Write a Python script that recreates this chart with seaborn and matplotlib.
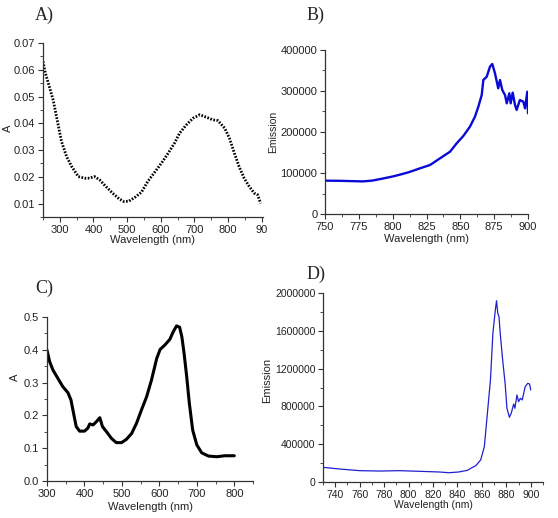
import numpy as np
import pandas as pd
import seaborn as sns
import matplotlib.pyplot as plt
from matplotlib.ticker import MultipleLocator, FuncFormatter

# --- data ---
# A) absorbance, dotted
wl_a = [250, 257, 270, 280, 290, 305, 320, 335, 355, 374, 388, 403, 418, 437, 457,
        476, 490, 505, 525, 543, 561, 580, 602, 622, 641, 656, 676, 696, 716, 735,
        755, 770, 790, 804, 819, 833, 848, 863, 878, 888, 897]
abs_a = [0.0631, 0.0588, 0.0532, 0.0488, 0.0426, 0.0332, 0.0276, 0.0239, 0.0201, 0.0195,
         0.0195, 0.0201, 0.0189, 0.0164, 0.0139, 0.0118, 0.0108, 0.0109, 0.0125, 0.0143,
         0.0182, 0.0214, 0.0251, 0.0288, 0.0326, 0.0363, 0.0394, 0.0419, 0.0432, 0.0423,
         0.0413, 0.0410, 0.0382, 0.0345, 0.0288, 0.0238, 0.0195, 0.0164, 0.0139, 0.0133,
         0.0101]

# B) emission
wl_b = [750, 760, 770, 778, 785, 792, 800, 806, 812, 820.2, 827.6, 835, 842.4, 847.3,
        852.2, 857.1, 860.8, 863.3, 865.8, 867, 869.5, 871.9, 873.6, 875.6, 878, 879.3,
        881, 883, 884.3, 886.2, 887.2, 888.7, 890.4, 891.6, 894, 896.5, 897.8, 899.5, 900]
em_b = [81300, 81000, 80200, 79500, 81500, 86000, 91500, 96500, 102000, 111400, 119500,
        135800, 152000, 172400, 190200, 213000, 237300, 261700, 290200, 326800, 334900,
        359300, 365900, 343100, 306500, 326800, 302400, 290200, 270000, 294400, 270000,
        296000, 265900, 253700, 278000, 274000, 257800, 298300, 245600]

# C) absorbance
wl_c = [300, 307, 316, 329, 342, 356, 364, 371, 378, 387, 400, 409, 414, 423, 432, 441,
        448, 459, 472, 485, 499, 512, 526, 539, 552, 566, 579, 593, 602, 615, 628, 637,
        646, 654, 660, 666, 673, 680, 689, 700, 713, 731, 753, 775, 800]
abs_c = [0.399, 0.364, 0.338, 0.313, 0.288, 0.269, 0.247, 0.206, 0.166, 0.152, 0.152,
         0.161, 0.174, 0.171, 0.181, 0.193, 0.166, 0.150, 0.130, 0.117, 0.117, 0.127,
         0.145, 0.176, 0.216, 0.257, 0.308, 0.374, 0.401, 0.415, 0.432, 0.455, 0.473,
         0.469, 0.440, 0.389, 0.318, 0.237, 0.155, 0.110, 0.086, 0.076, 0.074, 0.077,
         0.077]

# D) emission
wl_d = [730, 744, 760, 776.5, 792.7, 809, 825, 833, 841, 848, 852, 855, 859, 862, 864,
        867, 869, 871, 872, 873, 874, 875, 877, 879, 880.5, 882.5, 884, 886, 887, 888.7,
        890, 891.5, 893, 895.4, 897.5, 899, 900]
em_d = [155000, 137000, 120000, 116000, 120000, 113000, 106000, 98000, 106000, 123000,
        152000, 173000, 233000, 374000, 656000, 1079000, 1573000, 1820000, 1918000,
        1785000, 1749000, 1573000, 1291000, 1044000, 780000, 685000, 727000, 825000,
        780000, 921000, 850000, 886000, 868000, 1008000, 1044000, 1037000, 974000]

sns.set_style("ticks")
plt.rcParams['font.family'] = ['Liberation Sans', 'DejaVu Sans']
plt.rcParams['axes.edgecolor'] = '#333333'
plt.rcParams['xtick.color'] = '#333333'
plt.rcParams['ytick.color'] = '#333333'
plt.rcParams['xtick.labelcolor'] = '#222222'
plt.rcParams['ytick.labelcolor'] = '#222222'

fig = plt.figure(figsize=(5.58, 5.18), dpi=100)
W, H = 558, 518


def px_axes(left, top, right, bottom):
    return fig.add_axes([left / W, (H - bottom) / H, (right - left) / W, (bottom - top) / H])


def style(ax, xmaj, xmin, ymaj, ymin, fs=8):
    sns.despine(ax=ax)
    ax.xaxis.set_major_locator(MultipleLocator(xmaj))
    ax.xaxis.set_minor_locator(MultipleLocator(xmin))
    ax.yaxis.set_major_locator(MultipleLocator(ymaj))
    ax.yaxis.set_minor_locator(MultipleLocator(ymin))
    ax.tick_params(which='major', length=3.5, width=0.8, labelsize=fs, pad=2)
    ax.tick_params(which='minor', length=2, width=0.6)
    for s in ax.spines.values():
        s.set_linewidth(0.9)
    ax.set_xlabel("Wavelength (nm)", fontsize=fs, color='#222222')


# A)
ax_a = px_axes(43, 43, 263, 217)
sns.lineplot(x=wl_a, y=abs_a, ax=ax_a, color='black', lw=2.0, linestyle=(0, (0.6, 0.55)))
ax_a.set_xlim(250, 904)
ax_a.set_ylim(0.005, 0.07)
style(ax_a, 100, 50, 0.01, 0.005)
ax_a.xaxis.set_major_formatter(FuncFormatter(lambda v, p: "90" if v >= 900 else f"{v:.0f}"))
ax_a.set_ylabel("A", fontsize=8, color='#222222')
ax_a.xaxis.set_label_coords(0.5, -0.105)
ax_a.yaxis.set_label_coords(-0.136, 0.51)

# B)
ax_b = px_axes(325, 50, 528, 214)
sns.lineplot(x=wl_b, y=em_b, ax=ax_b, color='#0a0ad8', lw=1.7)
ax_b.set_xlim(750, 900)
ax_b.set_ylim(0, 400000)
style(ax_b, 25, 12.5, 100000, 50000)
ax_b.set_ylabel("Emission", fontsize=7.5, color='#222222')
ax_b.xaxis.set_label_coords(0.5, -0.125)
ax_b.yaxis.set_label_coords(-0.232, 0.5)

# C)
ax_c = px_axes(47, 317, 253, 481)
sns.lineplot(x=wl_c, y=abs_c, ax=ax_c, color='black', lw=2.2)
ax_c.set_xlim(300, 850)
ax_c.set_ylim(0, 0.5)
style(ax_c, 100, 50, 0.1, 0.05)
ax_c.yaxis.set_major_formatter(FuncFormatter(lambda v, p: f"{v:.1f}"))
ax_c.set_ylabel("A", fontsize=8, color='#222222')
ax_c.xaxis.set_label_coords(0.5, -0.125)
ax_c.yaxis.set_label_coords(-0.131, 0.63)

# D)
ax_d = px_axes(323, 293, 543, 482)
sns.lineplot(x=wl_d, y=em_d, ax=ax_d, color='#2020d0', lw=0.9)
ax_d.set_xlim(730, 910)
ax_d.set_ylim(0, 2000000)
style(ax_d, 20, 10, 400000, 200000, fs=7.5)
ax_d.yaxis.set_major_formatter(FuncFormatter(lambda v, p: f"{v:.0f}"))
ax_d.set_ylabel("Emission", fontsize=8, color='#222222')
ax_d.xaxis.set_label_coords(0.5, -0.095)
ax_d.yaxis.set_label_coords(-0.232, 0.54)

# panel letters
for lab, x, base in [("A)", 35, 20), ("B)", 307, 20), ("C)", 35, 293), ("D)", 307, 279)]:
    fig.text(x / W, (H - base) / H, lab, family=['Liberation Serif', 'DejaVu Serif'],
             fontsize=13, va='baseline', ha='left')

fig.savefig("out.png", dpi=100)
